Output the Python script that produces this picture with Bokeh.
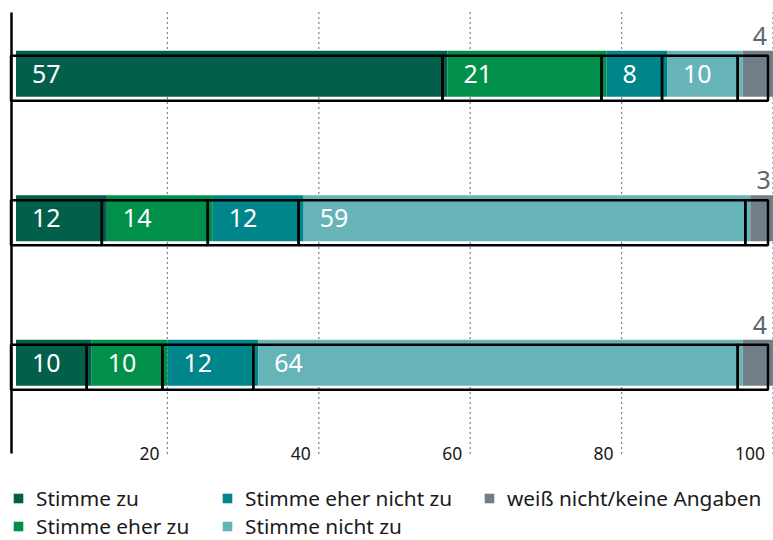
from bokeh.plotting import figure
from bokeh.models import ColumnDataSource, Range1d, Legend, LegendItem
from bokeh.transform import dodge
from bokeh.core.properties import value
from bokeh.embed import file_html
from bokeh.resources import INLINE

# ---------------- data ----------------
categories = ["Aussage 1", "Aussage 2", "Aussage 3"]
series_names = ["Stimme zu", "Stimme eher zu", "Stimme eher nicht zu",
                "Stimme nicht zu", "weiß nicht/keine Angaben"]
stimme_zu = [57, 12, 10]
stimme_eher_zu = [21, 14, 10]
stimme_eher_nicht_zu = [8, 12, 12]
stimme_nicht_zu = [10, 59, 64]
weiss_nicht = [4, 3, 4]
tick_values = [20, 40, 60, 80, 100]
tick_labels = ["20", "40", "60", "80", "100"]

colors = ["#025F4A", "#00904A", "#00858A", "#67B4B8", "#717E87"]
FONT = "Noto Sans"

# ---------------- geometry ----------------
W, H = 773, 540
PX_X = 7.57      # px per percent
X0 = 15.5        # px position of 0 %
PX_Y = 144.5     # px per category step
Y0 = 73.25       # px position of first category centre
x_start = -X0 / PX_X
x_end = x_start + W / PX_X
y_top = -Y0 / PX_Y
y_bottom = y_top + H / PX_Y


def px_x(px):
    return x_start + px / PX_X


def px_y(px):
    return y_top + px / PX_Y


BAR_H = 46 / PX_Y
OUT_H = 45 / PX_Y
OUT_DY = 4.5 / PX_Y
OUT_DX = -5 / PX_X

p = figure(width=W, height=H,
           x_range=Range1d(x_start, x_end),
           y_range=Range1d(y_bottom, y_top),
           x_axis_type=None, y_axis_type=None,
           output_backend="svg", toolbar_location=None,
           min_border=0, outline_line_color=None)
p.background_fill_color = "white"
p.border_fill_color = "white"

# grid lines (dotted) and tick labels
grid_top, grid_bottom = px_y(12), px_y(453)
p.segment(x0=tick_values, y0=[grid_top] * len(tick_values),
          x1=tick_values, y1=[grid_bottom] * len(tick_values),
          line_color="#111111", line_width=1.3, line_dash="1 4")
p.text(x=tick_values, y=[grid_bottom] * len(tick_values), text=tick_labels,
       x_offset=-8, text_align="right", text_baseline="alphabetic",
       text_font=value(FONT), text_font_size="17.5px", text_color="#1a1a1a")

# left axis line
p.segment(x0=[px_x(11)], y0=[grid_top], x1=[px_x(11)], y1=[grid_bottom],
          line_color="black", line_width=2.5)

all_vals = [stimme_zu, stimme_eher_zu, stimme_eher_nicht_zu, stimme_nicht_zu, weiss_nicht]
ypos = list(range(len(categories)))
cum = [0] * len(categories)
renderers = []
sources = []
for i, (name, vals, col) in enumerate(zip(series_names, all_vals, colors)):
    lefts = cum[:]
    rights = [l + v for l, v in zip(lefts, vals)]
    cum = rights
    src = ColumnDataSource(dict(
        y=ypos, left=lefts, right=rights,
        mid=[(l + r) / 2 for l, r in zip(lefts, rights)],
        top=[y - BAR_H / 2 for y in ypos],
        lab=[str(v) for v in vals]))
    r = p.hbar(y="y", left="left", right="right", height=BAR_H,
               fill_color=col, line_color=None, source=src)
    renderers.append(r)
    sources.append(src)

for i, src in enumerate(sources):
    p.hbar(y=dodge("y", OUT_DY), left=dodge("left", OUT_DX), right=dodge("right", OUT_DX),
           height=OUT_H, fill_color=None, line_color="black", line_width=2.5, source=src)

for i, src in enumerate(sources):
    if i < 4:
        p.text(x="left", y="y", text="lab", source=src, x_offset=16,
               text_align="left", text_baseline="middle", text_color="white",
               text_font=value(FONT), text_font_size="25px")
    else:
        p.text(x="mid", y="top", text="lab", source=src, x_offset=2, y_offset=-6,
               text_align="center", text_baseline="bottom", text_color="#5C6770",
               text_font=value(FONT), text_font_size="25px")


def make_legend(idx, loc):
    leg = Legend(items=[LegendItem(label=series_names[k], renderers=[renderers[k]]) for k in idx],
                 location=loc, orientation="vertical",
                 glyph_width=12, glyph_height=12, label_standoff=12,
                 spacing=0, label_height=20, padding=0, margin=0,
                 border_line_color=None, background_fill_alpha=0,
                 label_text_font=FONT, label_text_font_size="20.8px",
                 label_text_color="#1a1a1a")
    p.add_layout(leg)


make_legend([0, 1], (12, 0))
make_legend([2, 3], (221, 0))
make_legend([4], (483, 28))

open("out.html", "w").write(file_html(p, INLINE))
